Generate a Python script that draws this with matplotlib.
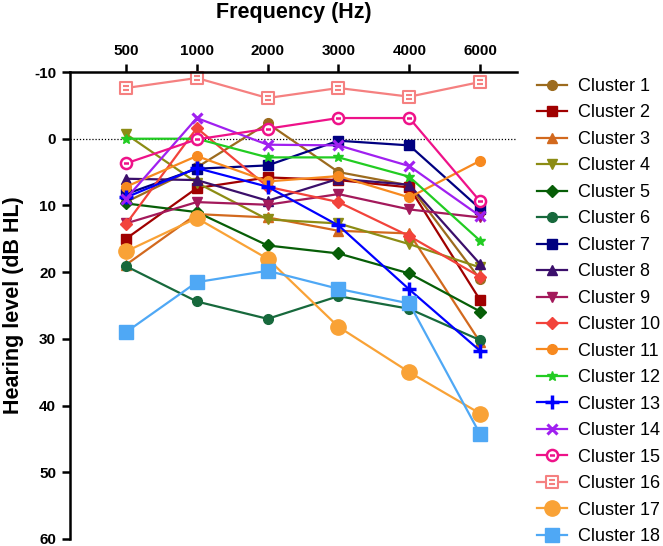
import matplotlib
matplotlib.use("Agg")
import matplotlib.pyplot as plt
import numpy as np
from matplotlib.path import Path

plt.rcParams['font.family'] = ['Liberation Sans', 'DejaVu Sans']

freqs = ['500', '1000', '2000', '3000', '4000', '6000']

c1 = [9.5, 4.3, -2.3, 5.0, 7.0, 21.1]
c2 = [15.0, 7.4, 5.8, 6.2, 7.3, 24.2]
c3 = [18.9, 11.3, 11.8, 13.8, 14.2, 30.5]
c4 = [-0.7, 6.6, 12.1, 12.7, 15.8, 19.3]
c5 = [9.7, 11.0, 16.0, 17.2, 20.2, 25.9]
c6 = [19.1, 24.4, 27.0, 23.6, 25.5, 30.2]
c7 = [8.3, 4.5, 4.0, 0.3, 1.0, 10.5]
c8 = [6.0, 6.2, 9.3, 6.0, 6.9, 18.8]
c9 = [12.7, 9.5, 9.9, 8.3, 10.6, 11.8]
c10 = [12.8, -1.6, 7.2, 9.5, 14.6, 20.7]
c11 = [7.2, 2.6, 6.4, 5.6, 8.8, 3.3]
c12 = [0.0, 0.0, 2.8, 2.8, 5.7, 15.3]
c13 = [8.8, 4.4, 7.2, 13.0, 22.6, 31.8]
c14 = [9.0, -3.1, 0.9, 1.0, 4.1, 11.6]
c15 = [3.7, 0.1, -1.5, -3.1, -3.1, 9.4]
c16 = [-7.6, -9.1, -6.1, -7.6, -6.3, -8.5]
c17 = [16.9, 11.9, 18.0, 28.2, 35.0, 41.2]
c18 = [29.0, 21.5, 19.8, 22.5, 24.7, 44.3]

series = [c1, c2, c3, c4, c5, c6, c7, c8, c9, c10, c11, c12, c13, c14, c15, c16, c17, c18]
labels = ['Cluster %d' % (i + 1) for i in range(18)]
yticks = [-10, 0, 10, 20, 30, 40, 50, 60]

colors = ['#9C6B1E', '#A00000', '#D2691E', '#8C8C14', '#075E07', '#17693C',
          '#000080', '#3B0F6B', '#A3195B', '#F2433B', '#F7891F', '#22CC22',
          '#0000FF', '#A020F0', '#EE1289', '#F58080', '#F9A236', '#4FA8F5']

# custom markers
circ = Path.unit_circle()
minus = Path([(-0.45, 0.0), (0.45, 0.0)], [Path.MOVETO, Path.LINETO])
circ_minus = Path.make_compound_path(circ, minus)
sq = Path([(-1, -1), (1, -1), (1, 1), (-1, 1), (-1, -1)],
          [Path.MOVETO, Path.LINETO, Path.LINETO, Path.LINETO, Path.CLOSEPOLY])
eq = Path([(-0.5, 0.3), (0.5, 0.3), (-0.5, -0.3), (0.5, -0.3)],
          [Path.MOVETO, Path.LINETO, Path.MOVETO, Path.LINETO])
sq_eq = Path.make_compound_path(sq, eq)

styles = [
    dict(marker='o', ms=7),
    dict(marker='s', ms=7),
    dict(marker='^', ms=7),
    dict(marker='v', ms=7),
    dict(marker='D', ms=6),
    dict(marker='o', ms=7),
    dict(marker='s', ms=7),
    dict(marker='^', ms=7),
    dict(marker='v', ms=7),
    dict(marker='D', ms=6),
    dict(marker='o', ms=7),
    dict(marker='*', ms=7),
    dict(marker='+', ms=10, mew=2.5),
    dict(marker='x', ms=7, mew=2.2),
    dict(marker=circ_minus, ms=8, mew=1.8, mfc='white'),
    dict(marker=sq_eq, ms=8, mew=1.5, mfc='white'),
    dict(marker='o', ms=11),
    dict(marker='s', ms=10),
]

fig = plt.figure(figsize=(6.63, 5.46), dpi=100)
ax = fig.add_axes([70 / 663, 1 - 539 / 546, (517 - 70) / 663, (539 - 72) / 546])

x = np.arange(len(freqs))
handles = []
for vals, lab, col, st in zip(series, labels, colors, styles):
    kw = dict(st)
    ms = kw.pop('ms')
    mfc = kw.pop('mfc', col)
    mew = kw.pop('mew', 1.0)
    h, = ax.plot(x, vals, color=col, lw=1.6, marker=kw['marker'], markersize=ms,
                 markerfacecolor=mfc, markeredgecolor=col, markeredgewidth=mew,
                 label=lab, clip_on=False)
    handles.append(h)

ax.axhline(0, color='black', lw=0.9, ls=(0, (1, 1.5)), zorder=0)

ax.set_xlim(-0.79, 5.52)
ax.set_ylim(60, -10)
ax.set_yticks(yticks)
ax.set_yticklabels([str(t) for t in yticks], fontweight='bold', fontsize=11)
ax.set_xticks(x)
ax.set_xticklabels(freqs, fontweight='bold', fontsize=11)
ax.xaxis.tick_top()
ax.xaxis.set_label_position('top')
ax.set_xlabel('Frequency (Hz)', fontweight='bold', fontsize=15.5, labelpad=19)
ax.set_ylabel('Hearing level (dB HL)', fontweight='bold', fontsize=15.5, labelpad=7)

for s in ['right', 'bottom']:
    ax.spines[s].set_visible(False)
ax.spines['top'].set_linewidth(1.8)
ax.spines['left'].set_linewidth(1.8)
ax.tick_params(axis='both', which='major', length=6, width=1.8, direction='out', pad=4)
ax.tick_params(axis='x', top=True, bottom=False)

fig.legend(handles=handles, labels=labels, loc='upper left',
           bbox_to_anchor=(537 / 663, 1 - 78 / 546), frameon=False,
           fontsize=13, labelspacing=0.525, handlelength=1.65, handletextpad=0.6,
           borderaxespad=0, borderpad=0)

fig.savefig('out.png', dpi=100)
